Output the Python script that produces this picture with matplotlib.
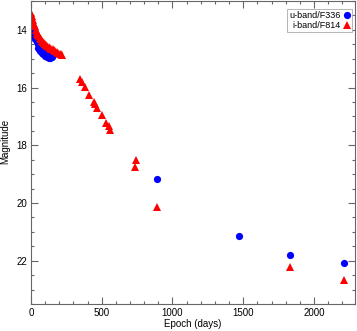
import matplotlib
matplotlib.use('Agg')
import matplotlib.pyplot as plt
from matplotlib.ticker import MultipleLocator

plt.rcParams['font.family'] = ['Liberation Sans', 'DejaVu Sans']

# u-band / F336W (days, magnitude)
u_days = [0, 2, 4, 6, 8, 11, 14, 17, 21, 25, 30,
          42, 50, 60, 70, 80, 90, 100, 110, 120, 130, 140, 150,
          48, 56, 66, 76, 86, 96, 106, 116, 126, 136,
          890, 1468, 1828, 2210]
u_mag = [13.72, 13.78, 13.85, 13.92, 13.98, 14.04, 14.10, 14.15, 14.20, 14.25, 14.30,
         14.42, 14.50, 14.58, 14.65, 14.71, 14.76, 14.80, 14.84, 14.87, 14.90, 14.92, 14.95,
         14.62, 14.68, 14.74, 14.80, 14.85, 14.89, 14.92, 14.95, 14.97, 14.99,
         19.16, 21.13, 21.79, 22.09]

# i-band / F814W (days, magnitude)
i_days = [0, 3, 6, 9, 12, 15, 18, 21, 25,
          35, 40, 45, 50, 56, 62, 68, 75, 82, 90, 98, 106, 115, 124, 133,
          142, 152, 162, 172, 182, 192, 202, 212, 222,
          346, 360, 384, 412, 443, 450, 469, 502, 530, 551, 560,
          735, 742, 890, 1828, 2210]
i_mag = [13.42, 13.47, 13.53, 13.60, 13.66, 13.72, 13.78, 13.84, 13.88,
         14.00, 14.07, 14.13, 14.18, 14.23, 14.29, 14.33, 14.38, 14.42, 14.46,
         14.50, 14.53, 14.57, 14.60, 14.63, 14.66, 14.68, 14.71, 14.74, 14.77,
         14.79, 14.82, 14.85, 14.87,
         15.72, 15.79, 15.97, 16.27, 16.50, 16.57, 16.71, 16.96, 17.22, 17.33, 17.47,
         18.76, 18.51, 20.15, 22.22, 22.66]

fig = plt.figure(figsize=(3.57, 3.31), dpi=100)
ax = fig.add_axes([31 / 357, 1 - 304 / 331, 324 / 357, 303 / 331])

ax.plot(u_days, u_mag, 'o', color='#0000ff', markersize=5.2, markeredgewidth=0,
        label='u-band/F336')
ax.plot(i_days, i_mag, '^', color='#ff0000', markersize=5.6, markeredgewidth=0,
        label='i-band/F814')

ax.set_xlim(0, 2290)
ax.set_ylim(23.5, 13.0)
ax.xaxis.set_major_locator(MultipleLocator(500))
ax.xaxis.set_minor_locator(MultipleLocator(100))
ax.yaxis.set_major_locator(MultipleLocator(2))
ax.yaxis.set_minor_locator(MultipleLocator(0.5))

edge = '#666666'
for s in ax.spines.values():
    s.set_color(edge)
    s.set_linewidth(0.8)
ax.tick_params(which='both', direction='in', top=True, right=True,
               color=edge, labelsize=7)
ax.tick_params(which='major', length=5, width=0.8, pad=3)
ax.tick_params(which='minor', length=2.5, width=0.8)

ax.set_xlabel('Epoch (days)', fontsize=7)
ax.set_ylabel('Magnitude', fontsize=7)
ax.xaxis.set_label_coords(0.5, -0.05)
ax.yaxis.set_label_coords(-0.065, 0.535)

leg = ax.legend(loc='upper right', markerfirst=False, fontsize=6.5,
                handlelength=0.7, handletextpad=0.3, borderpad=0.25,
                labelspacing=0.05, fancybox=False, framealpha=1,
                borderaxespad=0,
                bbox_to_anchor=(352 / 357, 1 - 9 / 331),
                bbox_transform=fig.transFigure)
leg.get_frame().set_edgecolor('#aaaaaa')
leg.get_frame().set_linewidth(0.6)

fig.savefig('out.png', dpi=100)
